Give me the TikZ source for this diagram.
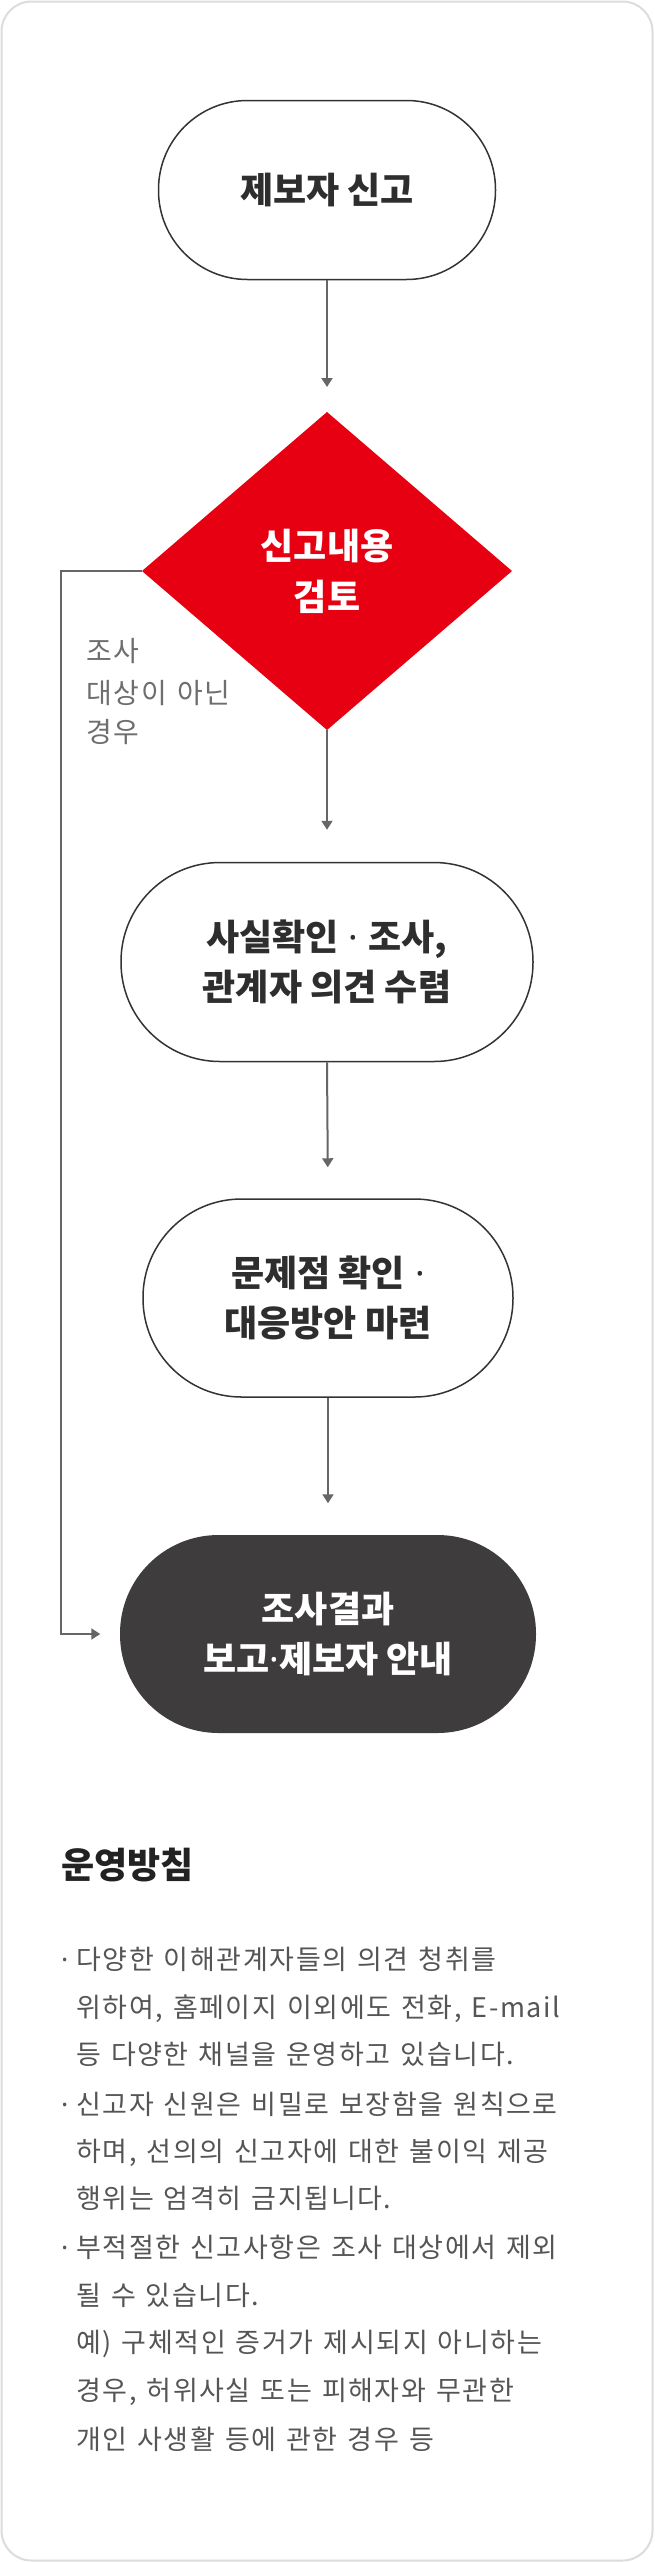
\documentclass[tikz,border=0pt]{standalone}
\usepackage{fontspec}
\setmainfont{Noto Sans CJK KR}
\newfontfamily\bodyfont{Noto Sans CJK KR}[LetterSpace=6,WordSpace=1.6]
\newfontfamily\labelfont{Noto Sans CJK KR}[LetterSpace=6,WordSpace=1.3]
\newfontfamily\dotfont{Noto Sans}
\usetikzlibrary{shapes.geometric,arrows.meta}
\definecolor{framegray}{HTML}{DCDCDC}
\definecolor{nodeborder}{HTML}{333333}
\definecolor{nodetext}{HTML}{2E2E2E}
\definecolor{kred}{HTML}{E60012}
\definecolor{darkfill}{HTML}{3E3C3D}
\definecolor{linegray}{HTML}{666666}
\definecolor{labelgray}{HTML}{6E6E6E}
\definecolor{headtext}{HTML}{222222}
\definecolor{bodytext}{HTML}{555555}
\newcommand{\mdot}{{\dotfont\bfseries ·}}
\begin{document}
\begin{tikzpicture}[x=1pt,y=-1pt,
  stadium/.style={rectangle, rounded corners=#1, draw=nodeborder, line width=1.5pt,
    fill=white, align=center, text=nodetext, inner sep=0pt,
    font=\fontsize{36}{50}\selectfont\bfseries},
  darkstadium/.style={stadium=#1, draw=none, fill=darkfill, text=white},
  decision/.style={diamond, aspect=1.1635, minimum width=370pt, minimum height=318pt,
    fill=kred, inner sep=0pt, outer sep=0pt, text=white, align=center,
    font=\fontsize{36}{51}\selectfont\bfseries},
  conn/.style={draw=linegray, line width=2pt, -{Triangle[length=9pt,width=11pt]}},
  labeltext/.style={anchor=base west, inner sep=0pt, text=labelgray,
    font=\labelfont\fontsize{28}{41}\selectfont},
  bodyline/.style={anchor=base west, inner sep=0pt, text=bodytext,
    font=\bodyfont\fontsize{27}{48}\selectfont},
  headline/.style={anchor=base west, inner sep=0pt, text=headtext,
    font=\fontsize{36}{40}\selectfont\bfseries}
]
\useasboundingbox (0,0) rectangle (654,2562);
\draw[framegray, line width=2pt, rounded corners=30pt, fill=white] (1.5,1.5) rectangle (652.5,2560.5);

% flow nodes
\node[stadium=89pt, minimum width=337pt, minimum height=179pt] (n1) at (327,190) {제보자 신고};
\node[decision] (d) at (327,571) {신고내용\\검토};
\node[stadium=99pt, minimum width=412pt, minimum height=199pt] (n2) at (327,962) {사실확인\hspace{10pt}\mdot\hspace{10pt}조사,\\관계자 의견 수렴};
\node[stadium=98.5pt, minimum width=370pt, minimum height=198pt] (n3) at (328,1298) {문제점 확인\hspace{10pt}\mdot\\대응방안 마련};
\node[darkstadium=98.5pt, minimum width=416pt, minimum height=198pt] (n4) at (328,1634) {조사결과\\보고\mdot{}제보자 안내};

% connectors
\coordinate (lx) at (61,0);
\draw[conn, shorten >=25pt] (n1.south) -- (d.north);
\draw[conn, shorten >=32pt] (d.south) -- (n2.north);
\draw[conn, shorten >=31pt] (n2.south) -- (n3.north);
\draw[conn, shorten >=31pt] (n3.south) -- (n4.north);
\draw[conn, shorten >=19pt] (d.west) -- (d.west -| lx) |- (n4.west);

% branch label
\node[labeltext] (lb1) at (86,661) {조사};
\node[labeltext] (lb2) at (86,703) {대상이 아닌};
\node[labeltext] (lb3) at (86,742) {경우};

% policy
\node[headline] (head) at (61,1878) {운영방침};
\node[bodyline] (b1) at (61,1969) {{\dotfont ·}};
\node[bodyline] (b4) at (61,2114) {{\dotfont ·}};
\node[bodyline] (b7) at (61,2257) {{\dotfont ·}};
\node[bodyline] (t1) at (76,1969) {다양한 이해관계자들의 의견 청취를};
\node[bodyline] (t2) at (76,2017) {위하여, 홈페이지 이외에도 전화, E-mail};
\node[bodyline] (t3) at (76,2064) {등 다양한 채널을 운영하고 있습니다.};
\node[bodyline] (t4) at (76,2114) {신고자 신원은 비밀로 보장함을 원칙으로};
\node[bodyline] (t5) at (76,2161) {하며, 선의의 신고자에 대한 불이익 제공};
\node[bodyline] (t6) at (76,2208) {행위는 엄격히 금지됩니다.};
\node[bodyline] (t7) at (76,2257) {부적절한 신고사항은 조사 대상에서 제외};
\node[bodyline] (t8) at (76,2305) {될 수 있습니다.};
\node[bodyline] (t9) at (76,2352) {예) 구체적인 증거가 제시되지 아니하는};
\node[bodyline] (t10) at (76,2400) {경우, 허위사실 또는 피해자와 무관한};
\node[bodyline] (t11) at (76,2449) {개인 사생활 등에 관한 경우 등};
\end{tikzpicture}
\end{document}
